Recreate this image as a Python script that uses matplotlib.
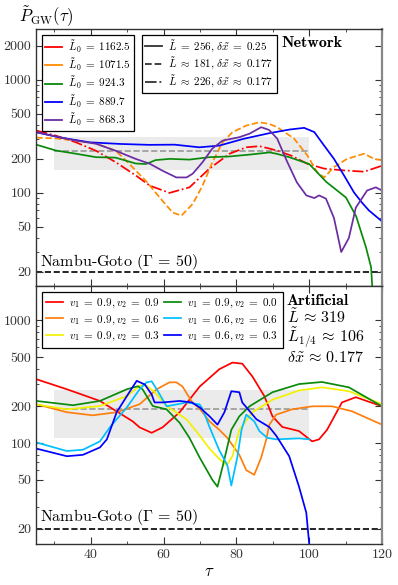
import matplotlib
matplotlib.use("Agg")
import matplotlib.pyplot as plt
from matplotlib.lines import Line2D
from matplotlib.patches import Rectangle

plt.rcParams['font.family'] = 'cmr10'
plt.rcParams['mathtext.fontset'] = 'cm'
plt.rcParams['axes.formatter.use_mathtext'] = True
plt.rcParams['axes.unicode_minus'] = False

# --- Network panel (top) ---
red_t = [25.0, 30.4, 35.9, 41.4, 46.8, 52.3, 56.2, 61.6, 67.1, 72.6, 78.1, 82.7, 86.3, 89.0, 91.2, 95.0, 99.5, 104.1, 109.6, 115.1, 120.0]
red_v = [356, 321, 280, 236, 187, 143, 116, 100, 112, 164, 222, 253, 259, 247, 236, 214, 181, 164, 158, 154, 174]

orange_t = [25.0, 30.4, 35.9, 41.4, 46.8, 49.6, 52.3, 55.1, 57.3, 59.7, 62.5, 64.9, 68.0, 70.7, 73.4, 76.2, 78.9, 82.7, 86.3, 89.0, 91.2, 95.8, 99.5, 102.2, 104.1, 106.8, 110.4, 115.1, 117.8, 120.0]
orange_v = [308, 303, 290, 274, 236, 194, 158, 128, 105, 85, 67, 63, 80, 116, 187, 280, 344, 394, 421, 408, 381, 303, 214, 152, 137, 169, 200, 222, 200, 194]

green_t = [25.0, 30.4, 35.9, 41.4, 46.8, 52.3, 55.1, 57.8, 61.7, 67.1, 72.6, 78.1, 83.6, 89.1, 91.0, 94.5, 100.0, 104.7, 110.1, 112.9, 115.6, 117.0, 117.5]
green_v = [267, 237, 222, 207, 205, 182, 180, 195, 200, 197, 207, 210, 218, 228, 222, 207, 180, 125, 91, 62, 33, 22, 12]

blue_t = [25.0, 31.5, 39.7, 48.0, 56.0, 63.0, 69.8, 75.3, 82.0, 89.0, 94.5, 98.6, 101.4, 104.1, 106.8, 109.6, 112.3, 114.5, 116.4, 120.0]
blue_v = [344, 309, 280, 271, 266, 267, 253, 262, 301, 337, 363, 376, 345, 262, 200, 142, 101, 82, 70, 56]

purple_t = [25.0, 35.9, 41.4, 46.8, 52.3, 56.2, 59.7, 63.5, 66.3, 68.0, 70.7, 73.4, 76.2, 80.8, 83.6, 86.8, 89.0, 91.2, 93.9, 96.6, 99.2, 101.4, 102.7, 104.6, 106.8, 108.8, 110.9, 112.8, 115.9, 118.3, 120.0]
purple_v = [344, 290, 272, 236, 200, 181, 157, 137, 137, 148, 187, 247, 290, 311, 334, 381, 360, 302, 190, 124, 95, 90, 95, 89, 60, 30, 40, 74, 105, 112, 105]

net_labels = [r'$\tilde{L}_0\;=\;1162.5$', r'$\tilde{L}_0\;=\;1071.5$', r'$\tilde{L}_0\;=\;924.3$',
              r'$\tilde{L}_0\;=\;889.7$', r'$\tilde{L}_0\;=\;868.3$']
style_labels = [r'$\tilde{L}\;=\;256,\,\delta\tilde{x}\;=\;0.25$',
                r'$\tilde{L}\;\approx\;181,\,\delta\tilde{x}\;\approx\;0.177$',
                r'$\tilde{L}\;\approx\;226,\,\delta\tilde{x}\;\approx\;0.177$']

# --- Artificial panel (bottom) ---
a_red_t = [25.0, 33.4, 42.5, 51.5, 53.4, 56.7, 59.7, 64.4, 69.9, 75.3, 78.9, 81.6, 84.4, 87.7, 89.9, 92.6, 97.2, 100.8, 102.7, 104.9, 109.0, 112.8, 120.0]
a_red_v = [331, 274, 220, 150, 134, 121, 134, 178, 288, 399, 452, 443, 348, 240, 165, 135, 125, 103, 107, 128, 214, 236, 199]

a_orange_t = [25.0, 33.4, 40.5, 47.1, 53.4, 58.1, 61.6, 63.5, 65.2, 67.7, 69.9, 72.6, 75.3, 77.5, 80.8, 82.7, 84.9, 86.8, 88.2, 89.0, 90.9, 95.3, 100.8, 106.3, 111.8, 120.0]
a_orange_v = [207, 178, 168, 178, 207, 274, 312, 312, 288, 218, 190, 150, 128, 110, 80, 60, 55, 76, 107, 140, 170, 188, 199, 199, 181, 141]

a_yellow_t = [25.0, 33.4, 42.5, 49.9, 53.4, 54.8, 57.5, 60.8, 66.3, 69.9, 72.6, 75.3, 77.3, 78.9, 80.8, 84.4, 89.9, 97.2, 103.5, 110.9, 120.0]
a_yellow_v = [206, 188, 200, 241, 292, 300, 260, 200, 156, 115, 90, 74, 66, 78, 128, 178, 225, 268, 284, 264, 207]

a_green_t = [25.0, 35.1, 42.5, 49.9, 52.9, 54.2, 57.0, 60.8, 64.4, 67.1, 69.9, 73.4, 74.8, 76.2, 78.6, 80.8, 83.6, 89.9, 97.2, 103.5, 110.9, 120.0]
a_green_v = [220, 203, 220, 274, 290, 274, 200, 188, 146, 110, 76, 50, 44, 64, 128, 165, 199, 259, 302, 314, 284, 199]

a_cyan_t = [25.0, 33.4, 37.8, 42.5, 45.2, 49.9, 53.4, 55.3, 56.7, 58.1, 60.8, 63.5, 66.3, 69.9, 70.7, 72.6, 75.3, 77.5, 78.6, 80.3, 81.4, 82.7, 84.9, 86.3, 88.5, 90.9, 97.2, 100.0]
a_cyan_v = [101, 86, 88, 103, 134, 195, 274, 312, 318, 274, 199, 206, 214, 206, 190, 135, 87, 66, 45, 78, 128, 170, 150, 125, 110, 107, 109, 107]

a_blue_t = [25.0, 33.4, 37.8, 42.5, 44.4, 47.1, 49.9, 52.6, 54.8, 56.7, 57.5, 59.7, 64.4, 67.7, 69.9, 72.6, 74.8, 76.7, 78.6, 80.8, 81.6, 85.5, 89.0, 90.9, 94.5, 97.2, 99.2, 100.0]
a_blue_v = [90, 78, 80, 92, 107, 178, 241, 321, 300, 249, 214, 214, 220, 214, 195, 165, 141, 178, 264, 259, 214, 156, 135, 115, 78, 44, 27, 15]

art_labels = [r'$v_1\;=\;0.9, v_2\;=\;0.9$', r'$v_1\;=\;0.9, v_2\;=\;0.6$', r'$v_1\;=\;0.9, v_2\;=\;0.3$',
              r'$v_1\;=\;0.9, v_2\;=\;0.0$', r'$v_1\;=\;0.6, v_2\;=\;0.6$', r'$v_1\;=\;0.6, v_2\;=\;0.3$']
art_info = [r'$\tilde{L}\,\approx\,319$', r'$\tilde{L}_{1/4}\,\approx\,106$', r'$\delta\tilde{x}\,\approx\,0.177$']

net_ticks = [20, 50, 100, 200, 500, 1000, 2000]
art_ticks = [20, 50, 100, 200, 500, 1000]
x_ticks = [40, 60, 80, 100, 120]

band_t = (30, 100)
net_band = (158, 310)
net_mean = 234
art_band = (109, 269)
art_mean = 190
nambu_goto = 20

C_RED = '#ff0000'
C_ORANGE = '#ff8c00'
C_GREEN = '#0a8a0a'
C_BLUE = '#0000ff'
C_PURPLE = '#6a2ca3'
C_YELLOW = '#f2f200'
C_CYAN = '#00bfff'
C_AORANGE = '#ff7f0e'

LEG = dict(loc='upper left', borderaxespad=0, fontsize=8, fancybox=False, edgecolor='k',
           framealpha=1, handlelength=1.5, handletextpad=0.55)

NG_TEXT = r'Nambu-Goto ($\mathit{\Gamma}\,=\,50$)'


def style_axis(ax, ylim, ticks):
    ax.set_yscale('log')
    ax.set_xlim(25, 120)
    ax.set_ylim(*ylim)
    ax.set_yticks(ticks, [str(t) for t in ticks])
    ax.set_xticks(x_ticks, [str(t) for t in x_ticks])
    ax.set_xticks(range(30, 120, 10), minor=True)
    ax.yaxis.set_minor_formatter(plt.NullFormatter())
    ax.tick_params(which='both', direction='in', top=True, right=True, labelsize=10, colors='#333333')
    ax.tick_params(which='major', length=5, width=0.8)
    ax.tick_params(which='minor', length=2.5, width=0.6)
    for s in ax.spines.values():
        s.set_color('#333333')
        s.set_linewidth(1.0)
    ax.spines['right'].set_color('#888888')
    ax.spines['right'].set_linewidth(1.6)


def band(ax, lo_hi, mean):
    ax.add_patch(Rectangle((band_t[0], lo_hi[0]), band_t[1] - band_t[0], lo_hi[1] - lo_hi[0],
                           facecolor='#ebebeb', edgecolor='none', zorder=0))
    ax.plot(band_t, [mean, mean], color='#999999', ls='--', lw=1.2, zorder=1)
    ax.axhline(nambu_goto, color='k', ls='--', lw=1.2, zorder=1)


fig = plt.figure(figsize=(3.98, 5.85), dpi=100)
ax1 = fig.add_axes([0.0911, 0.511, 0.8687, 0.439])
ax2 = fig.add_axes([0.0911, 0.070, 0.8687, 0.441])

# top panel
band(ax1, net_band, net_mean)
lw = 1.25
ax1.plot(red_t, red_v, color=C_RED, ls='-.', lw=lw)
ax1.plot(orange_t, orange_v, color=C_ORANGE, ls='--', lw=lw)
ax1.plot(green_t, green_v, color=C_GREEN, lw=lw)
ax1.plot(blue_t, blue_v, color=C_BLUE, lw=lw)
ax1.plot(purple_t, purple_v, color=C_PURPLE, lw=lw)
style_axis(ax1, (15, 2800), net_ticks)
ax1.tick_params(labelbottom=False)

h1 = [Line2D([], [], color=c, lw=1.3) for c in [C_RED, C_ORANGE, C_GREEN, C_BLUE, C_PURPLE]]
leg1 = ax1.legend(h1, net_labels, bbox_to_anchor=(0.0166, 0.978), labelspacing=0.12, borderpad=0.3, **LEG)
leg1.get_frame().set_linewidth(0.9)
ax1.add_artist(leg1)
h2 = [Line2D([], [], color='#333333', lw=1.3, ls=s) for s in ['-', '--', '-.']]
leg2 = ax1.legend(h2, style_labels, bbox_to_anchor=(0.306, 0.978), labelspacing=0.12, borderpad=0.3, **LEG)
leg2.get_frame().set_linewidth(0.9)
ax1.text(0.708, 0.948, 'Network', transform=ax1.transAxes, fontfamily='cmb10', fontsize=11.5, va='center')
ax1.text(0.012, 0.095, NG_TEXT, transform=ax1.transAxes, fontsize=11.5, va='center')

# bottom panel
band(ax2, art_band, art_mean)
ax2.plot(a_red_t, a_red_v, color=C_RED, lw=lw, label=art_labels[0])
ax2.plot(a_orange_t, a_orange_v, color=C_AORANGE, lw=lw, label=art_labels[1])
ax2.plot(a_yellow_t, a_yellow_v, color=C_YELLOW, lw=lw, label=art_labels[2])
ax2.plot(a_green_t, a_green_v, color=C_GREEN, lw=lw, label=art_labels[3])
ax2.plot(a_cyan_t, a_cyan_v, color=C_CYAN, lw=lw, label=art_labels[4])
ax2.plot(a_blue_t, a_blue_v, color=C_BLUE, lw=lw, label=art_labels[5])
style_axis(ax2, (15, 1900), art_ticks)
leg3 = ax2.legend(bbox_to_anchor=(0.0166, 0.977), ncol=2, labelspacing=0.3, borderpad=0.4,
                  columnspacing=0.4, **LEG)
leg3.get_frame().set_linewidth(0.9)
ax2.text(0.725, 0.928, 'Artificial', transform=ax2.transAxes, fontfamily='cmb10', fontsize=11.5, va='baseline')
for s, yy in zip(art_info, [0.857, 0.781, 0.704]):
    ax2.text(0.725, yy, s, transform=ax2.transAxes, fontsize=11.5, va='baseline')
ax2.text(0.012, 0.103, NG_TEXT, transform=ax2.transAxes, fontsize=11.5, va='center')
ax2.set_xlabel(r'$\tau$', fontsize=12, labelpad=2)

fig.text(0.048, 0.972, r'$\tilde{P}_{\rm GW}(\tau)$', fontsize=12, va='center')

fig.savefig('out.png', dpi=100)
